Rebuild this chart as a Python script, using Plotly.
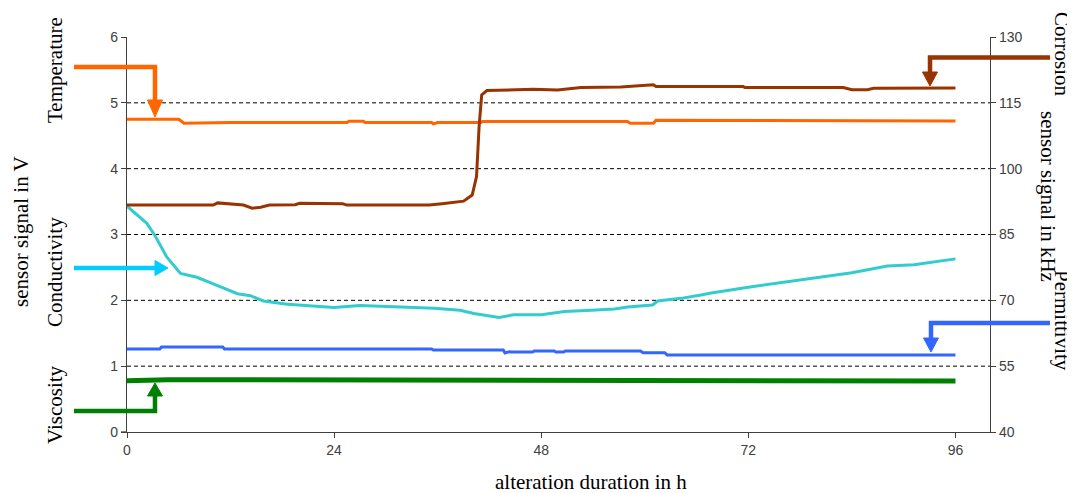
import plotly.graph_objects as go

# ---------------- data ----------------
temp_h = [0, 6.0, 6.6, 12, 25.5, 25.7, 27.4, 27.6, 35.3, 35.5, 36, 41, 41.2, 58, 58.3, 61, 61.3, 84, 84.3, 96]
temp_v = [4.75, 4.75, 4.69, 4.70, 4.70, 4.72, 4.72, 4.70, 4.70, 4.68, 4.70, 4.70, 4.715, 4.715, 4.69, 4.69, 4.735, 4.735, 4.725, 4.725]

corr_h = [0, 10, 10.5, 13.5, 14.5, 15.5, 16.5, 19.5, 20, 25, 25.5, 35, 36.5, 38, 39, 40, 40.5, 40.8,
          41.1, 41.7, 47.1, 49.9, 52.6, 57.2, 59.5, 61, 61.3, 71.4, 71.6, 83, 84, 85.8, 86.5, 91.2, 96]
corr_v = [91.7, 91.7, 92.2, 91.7, 91.0, 91.2, 91.7, 91.8, 92.1, 92.0, 91.7, 91.7, 92.0, 92.3, 92.6, 94.0, 98.2, 109.6,
          116.8, 117.8, 118.1, 117.9, 118.5, 118.6, 118.9, 119.1, 118.7, 118.7, 118.5, 118.5, 118.0, 118.0, 118.3, 118.3, 118.4]

cond_h = [0, 1.2, 2.3, 3.3, 4.6, 6.2, 8.1, 10, 12.8, 14.3, 15.8, 18.6, 24, 27, 30.9, 35.6, 38.6, 40.2, 43.1,
          44.8, 48, 50.7, 53.8, 56.5, 58, 60.9, 61.5, 64.2, 66.5, 67.7, 72, 78.1, 84, 88.1, 91.2, 96]
cond_v = [3.43, 3.30, 3.17, 2.97, 2.66, 2.41, 2.35, 2.25, 2.10, 2.07, 1.99, 1.94, 1.89, 1.92, 1.90, 1.88, 1.85, 1.80, 1.74,
          1.78, 1.78, 1.83, 1.85, 1.87, 1.90, 1.93, 1.99, 2.03, 2.08, 2.11, 2.20, 2.31, 2.42, 2.52, 2.54, 2.63]

perm_h = [0, 3.8, 4.0, 11.1, 11.3, 35.3, 35.5, 43.6, 43.8, 44.3, 44.6, 47, 47.2, 49.5, 49.7, 50.6, 50.8,
          59.5, 59.8, 62.3, 62.6, 96]
perm_v = [1.26, 1.26, 1.29, 1.29, 1.26, 1.26, 1.245, 1.245, 1.20, 1.22, 1.215, 1.215, 1.23, 1.23, 1.215, 1.215, 1.23,
          1.23, 1.205, 1.205, 1.17, 1.17]

visc_h = [0, 4.4, 4.7, 30, 45, 60, 62.5, 63, 75, 96]
visc_v = [0.78, 0.785, 0.795, 0.79, 0.785, 0.79, 0.79, 0.775, 0.78, 0.775]

x_ticks = [0, 24, 48, 72, 96]
yl_ticks = [0, 1, 2, 3, 4, 5, 6]
yr_ticks = [40, 55, 70, 85, 100, 115, 130]
grid_vals = [1, 2, 3, 4, 5]

# ---------------- colours ----------------
C_TEMP = "#FF6600"
C_CORR = "#993300"
C_COND = "#33CCCC"
C_COND_ARROW = "#00CCFF"
C_PERM = "#3366FF"
C_VISC = "#008000"

# page body has an 8px margin; compensate so the plot lands where the reference has it
OFF = 8
W, H = 1075 - OFF, 493 - OFF
PL, PR, PT, PB = 127, 990, 37, 432          # plot area in window pixels
PW, PH = PR - PL, PB - PT
L, T = PL - OFF, PT - OFF
R, B = W + OFF - PR, H + OFF - PB


def px(x):
    return (x - PL) / PW


def py(y):
    return (PB - y) / PH


fig = go.Figure()
fig.add_trace(go.Scatter(x=visc_h, y=visc_v, mode="lines", line=dict(color=C_VISC, width=5), yaxis="y"))
fig.add_trace(go.Scatter(x=perm_h, y=perm_v, mode="lines", line=dict(color=C_PERM, width=3), yaxis="y"))
fig.add_trace(go.Scatter(x=cond_h, y=cond_v, mode="lines", line=dict(color=C_COND, width=3), yaxis="y"))
fig.add_trace(go.Scatter(x=temp_h, y=temp_v, mode="lines", line=dict(color=C_TEMP, width=3), yaxis="y"))
fig.add_trace(go.Scatter(x=corr_h, y=corr_v, mode="lines", line=dict(color=C_CORR, width=3), yaxis="y2"))

shapes = []
for g in grid_vals:
    shapes.append(dict(type="line", xref="paper", yref="y", x0=0, x1=1, y0=g, y1=g,
                       line=dict(color="black", width=1, dash="4px,3px"), layer="below"))
# x axis line continues a little to the left of the y axis
shapes.append(dict(type="line", xref="paper", yref="paper", x0=px(121), x1=px(127), y0=0, y1=0,
                   line=dict(color="#404040", width=1.3)))


def arrow(points, tip_tri, color):
    d = "M " + " L ".join(f"{px(a):.5f},{py(b):.5f}" for a, b in points)
    shapes.append(dict(type="path", xref="paper", yref="paper", path=d,
                       line=dict(color=color, width=4.5)))
    t = "M " + " L ".join(f"{px(a):.5f},{py(b):.5f}" for a, b in tip_tri) + " Z"
    shapes.append(dict(type="path", xref="paper", yref="paper", path=t,
                       fillcolor=color, line=dict(color=color, width=1)))


arrow([(74, 67), (155, 67), (155, 101)], [(147.5, 100), (162.5, 100), (155, 117)], C_TEMP)
arrow([(74, 268), (156, 268)], [(155, 260.5), (155, 275.5), (168, 268)], C_COND_ARROW)
arrow([(74, 411), (155, 411), (155, 395)], [(147.5, 396), (162.5, 396), (155, 383)], C_VISC)
arrow([(1050, 57.5), (930, 57.5), (930, 73)], [(922.5, 72), (937.5, 72), (930, 86)], C_CORR)
arrow([(1050, 323), (931, 323), (931, 339)], [(923.5, 338), (938.5, 338), (931, 352)], C_PERM)

serif = dict(family="Liberation Serif, Times New Roman, serif", size=21, color="black")
annotations = [
    dict(text="alteration duration in h", x=px(591), y=py(482), textangle=0),
    dict(text="sensor signal in V", x=px(21), y=py(232), textangle=-90),
    dict(text="Temperature", x=px(55), y=py(70), textangle=-90),
    dict(text="Conductivity", x=px(55), y=py(272), textangle=-90),
    dict(text="Viscosity", x=px(55), y=py(405), textangle=-90),
    dict(text="sensor signal in kHz", x=px(1048), y=py(196), textangle=90),
    dict(text="Corrosion", x=px(1062), y=py(54), textangle=90),
    dict(text="Permittivity", x=px(1062), y=py(320), textangle=90),
]
for a in annotations:
    a.update(xref="paper", yref="paper", showarrow=False, xanchor="center", yanchor="middle", font=serif)

tickfont = dict(family="Liberation Sans, Arial, sans-serif", size=14, color="#404040")
axis_common = dict(showline=True, linecolor="#404040", linewidth=1.3, ticks="outside", ticklen=5,
                   tickcolor="#404040", tickwidth=1.3, showgrid=False, zeroline=False, tickfont=tickfont)

fig.update_layout(
    width=W, height=H,
    margin=dict(l=L, r=R, t=T, b=B, pad=0),
    paper_bgcolor="white", plot_bgcolor="white",
    showlegend=False,
    xaxis=dict(range=[0, 100], tickvals=x_ticks, ticktext=[str(v) for v in x_ticks], **axis_common),
    yaxis=dict(range=[0, 6], tickvals=yl_ticks, ticktext=[str(v) for v in yl_ticks], **axis_common),
    yaxis2=dict(range=[40, 130], tickvals=yr_ticks, ticktext=[str(v) for v in yr_ticks], overlaying="y",
                side="right", **axis_common),
    shapes=shapes,
    annotations=annotations,
)

fig.write_html("out.html")
